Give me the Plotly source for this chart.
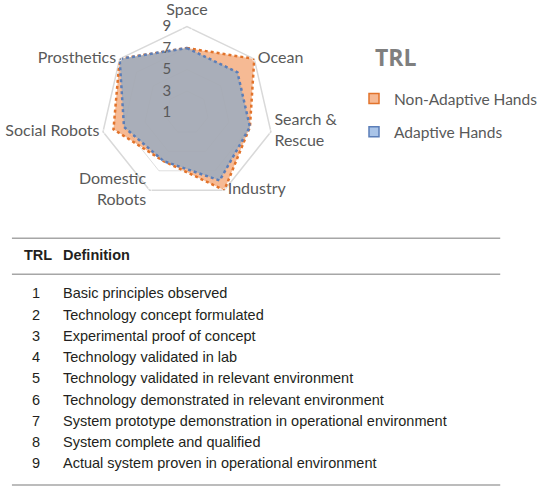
import plotly.graph_objects as go

# ---- data ----
categories = ["Space", "Ocean", "Search &<br>Rescue", "Industry",
              "Domestic<br>Robots", "Social Robots", "Prosthetics"]
non_adaptive = [7, 9, 7, 9, 6, 8, 9]
adaptive = [7, 7, 7, 8, 6, 7, 9]
radial_ticks = [1, 3, 5, 7, 9]
series_names = ["Non-Adaptive Hands", "Adaptive Hands"]
legend_title = "TRL"

trl_levels = ["1", "2", "3", "4", "5", "6", "7", "8", "9"]
trl_definitions = [
    "Basic principles observed",
    "Technology concept formulated",
    "Experimental proof of concept",
    "Technology validated in lab",
    "Technology validated in relevant environment",
    "Technology demonstrated in relevant environment",
    "System prototype demonstration in operational environment",
    "System complete and qualified",
    "Actual system proven in operational environment",
]
table_headers = ["TRL", "Definition"]

W, H = 543, 488
def px(x):
    return x / W
def py(y):
    return 1 - y / H

ORANGE_FILL = "rgba(242,156,102,0.7)"
ORANGE_LINE = "#E2732B"
BLUE_FILL = "rgba(150,171,194,0.8)"
BLUE_LINE = "#5B7EB8"
LABEL_COLOR = "#595959"

fig = go.Figure()
theta_closed = categories + [categories[0]]
fig.add_trace(go.Scatterpolar(
    r=non_adaptive + [non_adaptive[0]], theta=theta_closed,
    mode="lines", fill="toself", fillcolor=ORANGE_FILL,
    line=dict(color=ORANGE_LINE, width=2.5, dash="dot"),
    name=series_names[0], showlegend=False, hoverinfo="skip"))
fig.add_trace(go.Scatterpolar(
    r=adaptive + [adaptive[0]], theta=theta_closed,
    mode="lines", fill="toself", fillcolor=BLUE_FILL,
    line=dict(color=BLUE_LINE, width=2.5, dash="dot"),
    name=series_names[1], showlegend=False, hoverinfo="skip"))

# category labels drawn at the outer ring through the polar scale
# (an invisible marker gives the text a small stand-off from the ring)
label_positions = ["top center", "middle right", "middle right", "middle right",
                   "middle left", "middle left", "middle left"]
label_standoff = [11, 4, 4, 4, 4, 4, 4]
fig.add_trace(go.Scatterpolar(
    r=[radial_ticks[-1]] * len(categories), theta=categories,
    mode="markers+text", text=categories, textposition=label_positions,
    marker=dict(size=label_standoff, color="rgba(0,0,0,0)"),
    textfont=dict(family="Lato, Open Sans, sans-serif", size=16,
                  color=LABEL_COLOR),
    cliponaxis=False, showlegend=False, hoverinfo="skip"))

# legend entries
fig.add_trace(go.Scatterpolar(
    r=[None], theta=[None], mode="markers", name=series_names[0],
    legendgroup="a",
    marker=dict(symbol="square", size=10, color="#F6B994",
                line=dict(color=ORANGE_LINE, width=1.5))))
fig.add_trace(go.Scatterpolar(
    r=[None], theta=[None], mode="markers", name=series_names[1],
    legendgroup="b",
    marker=dict(symbol="square", size=10, color="#A9C4E8",
                line=dict(color=BLUE_LINE, width=1.5))))

cx, cy, R = 188, 112.6, 86.6
fig.update_layout(
    width=W, height=H,
    margin=dict(l=0, r=0, t=0, b=0),
    paper_bgcolor="white",
    font=dict(family="Lato, Open Sans, sans-serif", color=LABEL_COLOR),
    polar=dict(
        domain=dict(x=[px(cx - R), px(cx + R)], y=[py(cy + R), py(cy - R)]),
        bgcolor="rgba(0,0,0,0)",
        gridshape="linear",
        angularaxis=dict(
            direction="clockwise", rotation=90, showgrid=False,
            linecolor="#D9D9D9", linewidth=1.5, ticks="",
            showticklabels=False, layer="below traces",
        ),
        radialaxis=dict(
            range=[1, 9], tickvals=radial_ticks, showline=False,
            gridcolor="rgba(200,200,200,0.6)", gridwidth=1,
            ticks="outside", ticklen=10,
            tickcolor="rgba(0,0,0,0)", angle=90, side="counterclockwise",
            tickangle=90, tickfont=dict(size=15, color=LABEL_COLOR),
            layer="above traces",
        ),
    ),
    legend=dict(
        x=px(356), y=py(82), xanchor="left", yanchor="top",
        font=dict(size=15.5, color=LABEL_COLOR),
        traceorder="grouped", tracegroupgap=10,
        itemwidth=30, bgcolor="rgba(0,0,0,0)",
    ),
)
fig.add_annotation(x=px(375), y=py(57), xref="paper", yref="paper",
                   text="<b>" + legend_title + "</b>", showarrow=False,
                   xanchor="left", yanchor="middle",
                   font=dict(family="Open Sans, sans-serif", size=23,
                             color="#7F7F7F"))

# ---- table ----
TFONT = "Liberation Sans, Arial, sans-serif"
TCOLOR = "#231F20"
for yl in [238.3, 274.3, 485]:
    fig.add_shape(type="line", xref="paper", yref="paper",
                  x0=px(12), x1=px(503), y0=py(yl), y1=py(yl),
                  line=dict(color="#A6A6A6", width=1.5))
fig.add_annotation(x=px(22.5), y=py(255), xref="paper", yref="paper",
                   text="<b>" + table_headers[0] + "</b>", showarrow=False,
                   xanchor="left", yanchor="middle",
                   font=dict(family=TFONT, size=14.5, color=TCOLOR))
fig.add_annotation(x=px(61.5), y=py(255), xref="paper", yref="paper",
                   text="<b>" + table_headers[1] + "</b>", showarrow=False,
                   xanchor="left", yanchor="middle",
                   font=dict(family=TFONT, size=14.5, color=TCOLOR))
row0, step = 293.3, 21.25
for i, (lvl, d) in enumerate(zip(trl_levels, trl_definitions)):
    yy = row0 + i * step
    fig.add_annotation(x=px(36.7), y=py(yy), xref="paper", yref="paper",
                       text=lvl, showarrow=False, xanchor="center",
                       yanchor="middle",
                       font=dict(family=TFONT, size=14.5, color=TCOLOR))
    fig.add_annotation(x=px(61.5), y=py(yy), xref="paper", yref="paper",
                       text=d, showarrow=False, xanchor="left",
                       yanchor="middle",
                       font=dict(family=TFONT, size=14.5, color=TCOLOR))

fig.write_html("out.html",
               config={"displayModeBar": False},
               post_script="document.body.style.margin='0px';")
